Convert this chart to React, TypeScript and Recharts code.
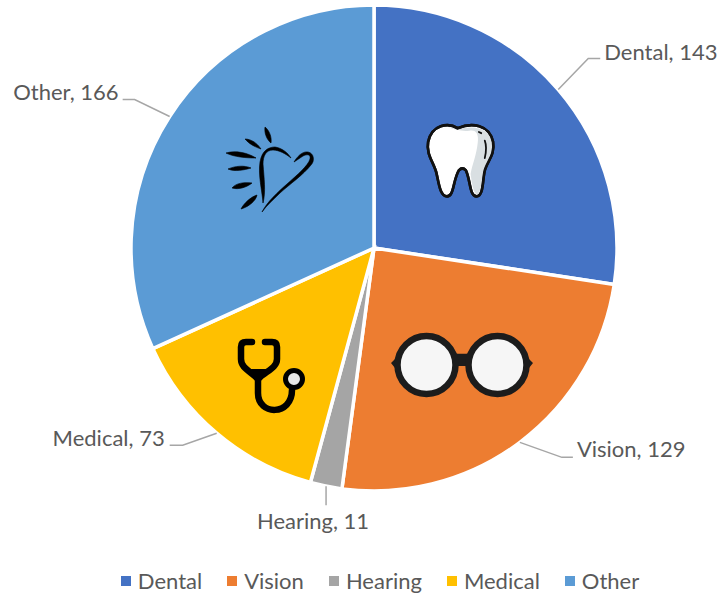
import React from "react";
import { PieChart, Pie, Cell, Legend } from "recharts";

const categories = ["Dental", "Vision", "Hearing", "Medical", "Other"];
const values = [143, 129, 11, 73, 166];
const colors = ["#4472C4", "#ED7D31", "#A5A5A5", "#FFC000", "#5B9BD5"];
const FONT = "Lato, 'Open Sans', sans-serif";
const TEXT = "#595959";
const LEADER = "#A6A6A6";

const data = categories.map((name, i) => ({ name, value: values[i] }));

const labelLayout: Record<string, { knee: number[]; end: number[]; text: number[]; anchor: string }> = {
  Dental: { knee: [30, -31], end: [42, -31], text: [46, -38], anchor: "start" },
  Vision: { knee: [42, 15], end: [53, 15], text: [57, 6], anchor: "start" },
  Hearing: { knee: [0, 19], end: [0, 19], text: [-13, 34], anchor: "middle" },
  Medical: { knee: [-34, 12], end: [-47, 12], text: [-52, 4], anchor: "end" },
  Other: { knee: [-35, -17], end: [-47, -17], text: [-51, -25], anchor: "end" },
};

function Tooth() {
  return (
    <g transform="scale(1.18,1.24)">
      <path d="M-2,-24 C-10,-29 -24,-27 -27,-13 C-29,-3 -22,4 -20,12 C-18,20 -17,31 -11,31 C-5,31 -6,18 -1,10 C1,8 3,8 5,10 C9,18 8,31 14,31 C20,31 19,18 21,10 C23,3 30,-3 28,-13 C25,-27 10,-29 -2,-24 Z" fill="#fff" stroke="#111" strokeWidth={2.2} />
      <path d="M-10,-24.5 C-4,-23 2,-21 8,-22 C14,-23 16,-19 15,-12 C14,-2 10,6 9,13 C10,20 11,27 14,29.5 C18,29 18,18 20,11 C22,3 29,-3 27,-13 C25,-24 12,-27 -2,-23 C-5,-24 -8,-25 -10,-24.5 Z" fill="#D9DFE2" />
      <path d="M-2,-24 C-10,-29 -24,-27 -27,-13 C-29,-3 -22,4 -20,12 C-18,20 -17,31 -11,31 C-5,31 -6,18 -1,10 C1,8 3,8 5,10 C9,18 8,31 14,31 C20,31 19,18 21,10 C23,3 30,-3 28,-13 C25,-27 10,-29 -2,-24 Z" fill="none" stroke="#111" strokeWidth={2.2} />
      <path d="M21,-14 C23,-9 22,-4 21,0 M16,-21 L18,-20" fill="none" stroke="#111" strokeWidth={1.5} strokeLinecap="round" />
    </g>
  );
}

function Glasses() {
  return (
    <g>
      <path d="M-14,-12 C-6,-11 6,-11 14,-12 L14,-3 C7,-4 5,-2 4,1 L-4,1 C-5,-2 -7,-4 -14,-3 Z" fill="#1C1C1C" />
      <path d="M-71,-2 L-64,-9 L-62,6 L-67,3 Z M71,-2 L64,-9 L62,6 L67,3 Z" fill="#1C1C1C" />
      <circle cx={-35.5} cy={0} r={29} fill="#F6F6F6" stroke="#1C1C1C" strokeWidth={6.5} />
      <circle cx={35.5} cy={0} r={29} fill="#F6F6F6" stroke="#1C1C1C" strokeWidth={6.5} />
    </g>
  );
}

function Stethoscope() {
  return (
    <g fill="none" stroke="#000" strokeLinecap="round" strokeLinejoin="round">
      <path d="M-18,-34 L-24,-34 Q-29,-34 -29,-29 L-29,-17 C-29,-8 -20,-5 -12,3 M-5,-34 L2,-34 Q7,-34 7,-29 L7,-17 C7,-8 -4,-5 -12,3 L-12,17 C-12,40 22,40 22,14" strokeWidth={6.5} />
      <path d="M-24,-7 L0,-7 L-10,6 L-14,6 Z" fill="#000" stroke="none" />
      <circle cx={24} cy={3} r={8.5} fill="#E8E8E8" stroke="#000" strokeWidth={5} />
    </g>
  );
}

function Heart() {
  return (
    <g fill="#000" stroke="#000" strokeWidth={0.6}>
      <path d="M-44,-17 C-34,-20 -22,-17 -14,-12 C-24,-12 -36,-13 -44,-17 Z" />
      <path d="M-42,-1 C-35,-4 -26,-5 -19,-2 C-26,0 -35,2 -42,-1 Z" />
      <path d="M-38,18 C-34,13 -26,12 -18,13 C-23,17 -31,20 -38,18 Z" />
      <path d="M-29,39 C-26,33 -19,27 -13,25 C-14,31 -22,37 -29,39 Z" />
      <path d="M-25,-31 C-19,-31 -13,-27 -9,-21 C-15,-23 -21,-26 -25,-31 Z" />
      <path d="M-5,-43 C-1,-40 2,-33 1,-27 C-3,-30 -6,-37 -5,-43 Z" />
      <path d="M-7,33 C-8,20 -12,5 -10,-8 C-8,-20 -1,-23 5,-23 C12,-22 18,-17 21,-12 C16,-16 9,-20 3,-20 C-4,-20 -7,-14 -7,-6 C-6,8 -4,22 -7,33 Z" />
      <path d="M-8,42 C-3,32 8,22 17,14 C27,5 38,-4 40,-11 C41,-16 37,-16 33,-14 C30,-12 27,-10 24,-8 C27,-13 32,-19 38,-18 C44,-17 45,-9 41,-5 C33,5 20,14 10,23 C3,30 -3,35 -8,42 Z" />
    </g>
  );
}

const iconOffsets: Record<string, number[]> = {
  Dental: [86, -90],
  Vision: [88, 117],
  Hearing: [0, 0],
  Medical: [-104, 128],
  Other: [-104, -78],
};
const icons: Record<string, React.ReactNode> = {
  Dental: <Tooth />,
  Vision: <Glasses />,
  Medical: <Stethoscope />,
  Other: <Heart />,
};

function renderLabel(props: any) {
  const { cx, cy, midAngle, outerRadius, name, value } = props;
  const rad = (-midAngle * Math.PI) / 180;
  const x = cx + outerRadius * Math.cos(rad);
  const y = cy + outerRadius * Math.sin(rad);
  const l = labelLayout[name];
  const off = iconOffsets[name];
  return (
    <g>
      {icons[name] && <g transform={`translate(${cx + off[0]},${cy + off[1]})`}>{icons[name]}</g>}
      <polyline
        points={`${x},${y} ${x + l.knee[0]},${y + l.knee[1]} ${x + l.end[0]},${y + l.end[1]}`}
        fill="none"
        stroke={LEADER}
        strokeWidth={1.5}
      />
      <text
        x={x + l.text[0]}
        y={y + l.text[1]}
        textAnchor={l.anchor}
        dominantBaseline="central"
        fill={TEXT}
        fontSize={22}
        fontFamily={FONT}
      >
        {`${name}, ${value}`}
      </text>
    </g>
  );
}

function LegendContent() {
  return (
    <div style={{ display: "flex", justifyContent: "center", fontFamily: FONT, fontSize: 22, color: TEXT, lineHeight: "26px", transform: "translateX(20px)" }}>
      {categories.map((c, i) => (
        <span key={c} style={{ display: "inline-flex", alignItems: "center", marginLeft: i ? 25 : 0 }}>
          <span style={{ width: 10, height: 10, background: colors[i], marginRight: 7 }} />
          {c}
        </span>
      ))}
    </div>
  );
}

export default function App() {
  return (
    <div style={{ position: "absolute", left: 0, top: 0, width: 720, height: 596, background: "#fff" }}>
      <PieChart width={720} height={596} margin={{ top: 0, right: 0, bottom: 0, left: 0 }}>
        <Pie
          data={data}
          dataKey="value"
          nameKey="name"
          cx={374}
          cy={248}
          outerRadius={243}
          startAngle={90}
          endAngle={-270}
          stroke="#fff"
          strokeWidth={3.5}
          label={renderLabel}
          labelLine={false}
          isAnimationActive={false}
        >
          {data.map((d, i) => (
            <Cell key={d.name} fill={colors[i]} />
          ))}
        </Pie>
        <Legend content={<LegendContent />} verticalAlign="bottom" wrapperStyle={{ bottom: 2 }} />
      </PieChart>
    </div>
  );
}
